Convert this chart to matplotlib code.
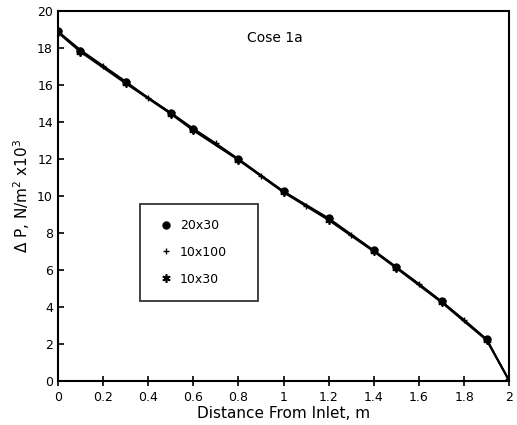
import numpy as np
import matplotlib.pyplot as plt

# data
x_20x30 = [0, 0.1, 0.3, 0.5, 0.6, 0.8, 1.0, 1.2, 1.4, 1.5, 1.7, 1.9, 2.0]
p_20x30 = [18.9, 17.85, 16.15, 14.5, 13.6, 12.0, 10.25, 8.8, 7.05, 6.15, 4.3, 2.25, 0.0]

x_10x100 = [0, 0.1, 0.2, 0.3, 0.4, 0.5, 0.6, 0.7, 0.8, 0.9, 1.0,
            1.1, 1.2, 1.3, 1.4, 1.5, 1.6, 1.7, 1.8, 1.9, 2.0]
p_10x100 = [18.9, 17.9, 17.05, 16.2, 15.3, 14.5, 13.65, 12.85, 12.0, 11.1, 10.25,
            9.45, 8.75, 7.9, 7.05, 6.15, 5.25, 4.3, 3.3, 2.25, 0.0]

x_10x30 = [0, 0.1, 0.3, 0.5, 0.6, 0.8, 1.0, 1.2, 1.4, 1.5, 1.7, 1.9, 2.0]
p_10x30 = [18.85, 17.8, 16.1, 14.45, 13.55, 11.95, 10.2, 8.7, 7.0, 6.1, 4.25, 2.2, 0.0]

plt.rcParams['font.family'] = ['DejaVu Sans']

fig = plt.figure(figsize=(5.17, 4.25), dpi=100)
ax = fig.add_axes([0.112, 0.104, 0.873, 0.870])

ax.plot(x_10x30, p_10x30, color='black', lw=1.6, marker=(6, 2, 0), ms=6, mew=1.2, label='10x30')
ax.plot(x_10x100, p_10x100, color='black', lw=1.2, marker='+', ms=5, mew=1.0, label='10x100')
ax.plot(x_20x30, p_20x30, color='black', lw=1.2, marker='o', ms=5, mfc='black', mew=1.0, label='20x30')

ax.set_xlim(0, 2)
ax.set_ylim(0, 20)
ax.set_xticks(np.arange(0, 2.01, 0.2))
ax.set_xticklabels(['0', '0.2', '0.4', '0.6', '0.8', '1', '1.2', '1.4', '1.6', '1.8', '2'])
ax.set_yticks(np.arange(0, 21, 2))
ax.tick_params(axis='x', direction='inout', length=7, width=1.2, labelsize=9)
ax.tick_params(axis='y', direction='in', length=4, width=1.2, labelsize=9)
for s in ax.spines.values():
    s.set_linewidth(1.5)

ax.set_xlabel('Distance From Inlet, m', fontsize=11, labelpad=2)
ax.set_ylabel(r'$\Delta$ P, N/m$^2$ x10$^3$', fontsize=11, labelpad=4)
ax.text(0.84, 18.3, 'Cose 1a', fontsize=10)

h, l = ax.get_legend_handles_labels()
order = [2, 1, 0]
leg = ax.legend([h[i] for i in order], [l[i] for i in order],
                loc='upper left', bbox_to_anchor=(0.182, 0.378, 0.262, 0.1),
                mode='expand', fontsize=9,
                frameon=True, fancybox=False, edgecolor='black',
                handlelength=1.8, labelspacing=1.1, borderpad=1.2,
                handletextpad=0.2, borderaxespad=0)
leg.get_frame().set_linewidth(1.3)
for line in leg.get_lines():
    line.set_linestyle('none')

fig.savefig('out.png', dpi=100)
